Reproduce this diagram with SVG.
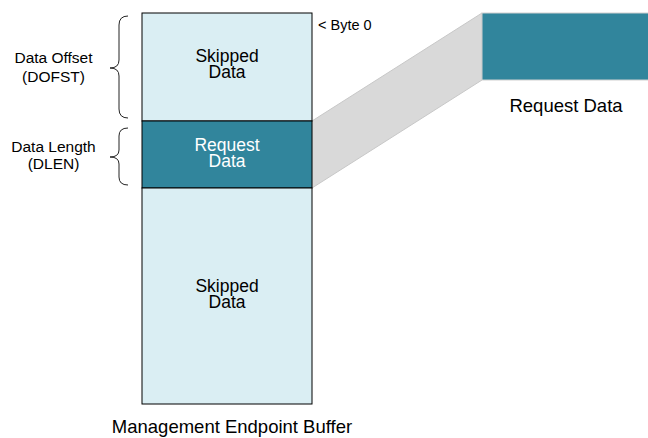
<svg xmlns="http://www.w3.org/2000/svg" width="648" height="438" viewBox="0 0 648 438">
<style>
text{font-family:"Liberation Sans",Arial,sans-serif;fill:#000}
.c{text-anchor:middle}
.lbl{font-size:15.5px}
.box{font-size:17.5px}
.w{fill:#fff}
.brace{fill:none;stroke:#222;stroke-width:1}
.light{fill:#DAEEF3;stroke:#000;stroke-width:1}
.teal{fill:#31859C;stroke:#000;stroke-width:1}
</style>
<rect width="648" height="438" fill="#fff"/>
<g id="connectors">
<polygon points="312,121 482,13 482,80 312,188" fill="#D9D9D9" stroke="#C8C8C8" stroke-width="1"/>
</g>
<g id="skipped-top">
<rect class="light" x="142" y="13" width="170" height="108"/>
<text class="c box" x="227" y="62">Skipped</text>
<text class="c box" x="227" y="78">Data</text>
</g>
<g id="request-in-buffer">
<rect class="teal" x="142" y="121" width="170" height="67"/>
<text class="c box w" x="227" y="151">Request</text>
<text class="c box w" x="227" y="167">Data</text>
</g>
<g id="skipped-bottom">
<rect class="light" x="142" y="188" width="170" height="216"/>
<text class="c box" x="227" y="292">Skipped</text>
<text class="c box" x="227" y="308">Data</text>
</g>
<g id="byte0">
<text x="318" y="30" style="font-size:14.5px">&lt; Byte 0</text>
</g>
<g id="request-data">
<rect x="482" y="13" width="170" height="67" fill="#31859C" stroke="#D0D0D0" stroke-width="1"/>
<text class="c" x="566" y="112" style="font-size:18.5px">Request Data</text>
</g>
<g id="offset-label">
<path class="brace" d="M128,16 Q119,16 119,25 L119,60 Q119,68 110,68 Q119,68 119,76 L119,109 Q119,118 128,118"/>
<text class="c lbl" x="53.5" y="63">Data Offset</text>
<text class="c lbl" x="53.5" y="82">(DOFST)</text>
</g>
<g id="length-label">
<path class="brace" d="M128,128 Q119,128 119,136 L119,150 Q119,157 110,157 Q119,157 119,164 L119,177 Q119,185 128,185"/>
<text class="c lbl" x="53.5" y="152">Data Length</text>
<text class="c lbl" x="53.5" y="169">(DLEN)</text>
</g>
<g id="caption">
<text class="c" x="232" y="433" style="font-size:18.5px">Management Endpoint Buffer</text>
</g>
</svg>
